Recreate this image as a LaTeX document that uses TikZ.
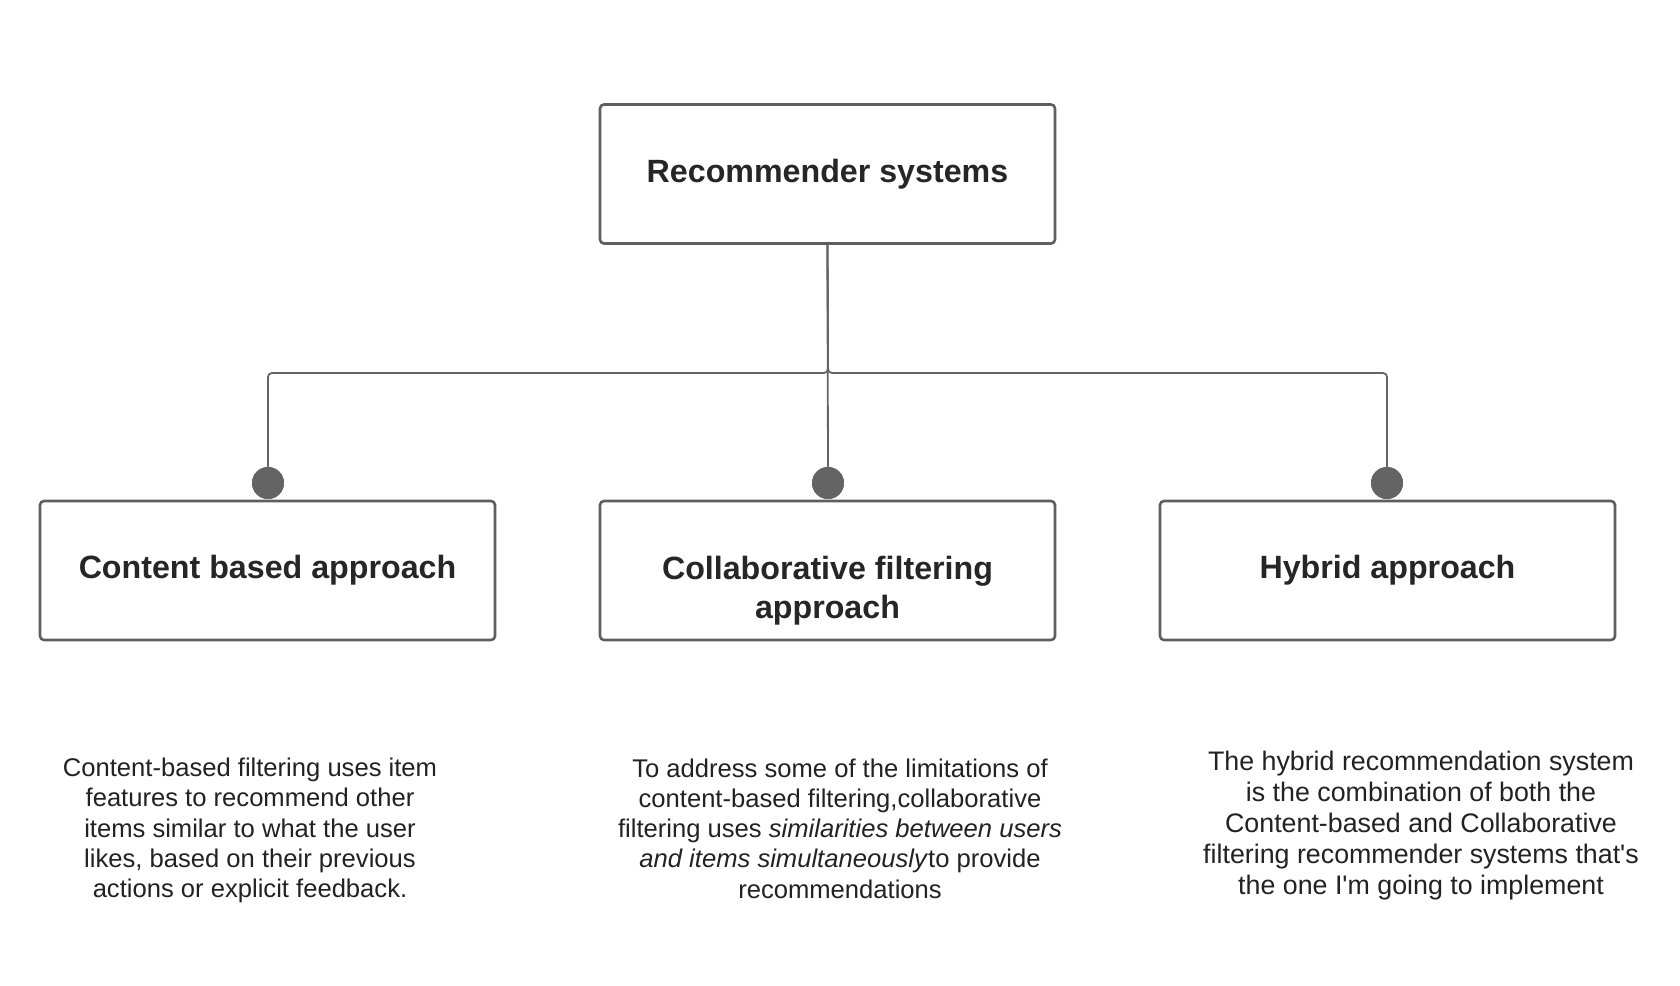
\documentclass[tikz,border=0pt]{standalone}
\usepackage{fontspec}
\setmainfont{Liberation Sans}
\begin{document}
\begin{tikzpicture}[x=1pt,y=-1pt,
  box/.style={draw=boxgray,line width=2.6pt,rounded corners=4pt,fill=white,
    minimum width=455pt,minimum height=139pt,inner sep=0pt,
    font=\fontsize{32.2}{39}\selectfont\bfseries,text=titlecol,align=center},
  conn/.style={draw=linegray,line width=1.8pt,rounded corners=4pt},
  dotn/.style={circle,fill=linegray,minimum size=32pt,inner sep=0pt},
  desc/.style={font=\fontsize{25.6}{30.3}\selectfont,text=desccol,align=center,inner sep=0pt}]
\definecolor{boxgray}{HTML}{5F5F5F}
\definecolor{linegray}{HTML}{646464}
\definecolor{titlecol}{HTML}{262626}
\definecolor{desccol}{HTML}{222222}
\useasboundingbox[fill=white] (0,0) rectangle (1680,985);

\node[box] (top) at (827.5,174) {Recommender systems};
\node[box] (cb) at (267.5,570.5) {Content based approach};
\node[box] (cf) at (827.5,570.5) {};
\node[text=titlecol,font=\fontsize{32.2}{38.5}\selectfont\bfseries,align=center,anchor=north] (cft) at (827.5,553) {Collaborative filtering\\approach};
\node[box] (hy) at (1387.5,570.5) {Hybrid approach};

\node[dotn] (d1) at (268,483) {};
\node[dotn] (d2) at (828,483) {};
\node[dotn] (d3) at (1387,483) {};
\coordinate (j) at (828,373);

\draw[conn] (top.south) -- (j) -| (d1.center);
\draw[conn] (top.south) -- (j) -| (d3.center);
\draw[conn] (top.south) -- (d2.center);
\node[dotn] at (d1) {};
\node[dotn] at (d2) {};
\node[dotn] at (d3) {};

\node[desc] (t1) at (250,830.5) {Content-based filtering uses item\\features to recommend other\\items similar to what the user\\likes, based on their previous\\actions or explicit feedback.};
\node[desc] (t2) at (840,828.5) {To address some of the limitations of\\content-based filtering,collaborative\\filtering uses \textit{similarities between users}\\\textit{and items simultaneously}to provide\\recommendations};
\node[desc,font=\fontsize{26.8}{31}\selectfont] (t3) at (1421,826) {The hybrid recommendation system\\is the combination of both the\\Content-based and Collaborative\\filtering recommender systems that\textquotesingle s\\the one I\textquotesingle m going to implement};
\end{tikzpicture}
\end{document}
